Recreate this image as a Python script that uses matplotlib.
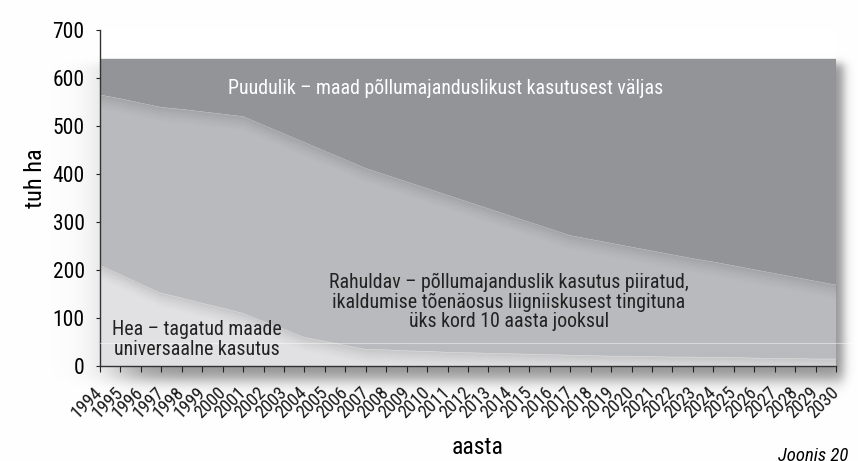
import numpy as np
import matplotlib
matplotlib.use("Agg")  # no display
import matplotlib.pyplot as plt

# ---------- data (tuh ha) ----------
years = list(range(1994, 2031))
hea = [210, 191, 171, 152, 142, 131, 121, 110, 93, 77, 60, 52, 43, 35, 34, 32,
       31, 29, 28, 27, 26, 25, 24, 23, 22, 21, 21, 20, 19, 19, 18, 18, 17, 16,
       16, 15, 15]
rahuldav = [355, 366, 377, 387, 393, 399, 404, 410, 409, 407, 406, 396, 387,
            377, 364, 352, 339, 327, 314, 301, 288, 275, 262, 249, 242, 235,
            227, 220, 213, 205, 199, 191, 184, 177, 169, 162, 154]
puudulik = [75, 83, 92, 101, 105, 110, 115, 120, 138, 156, 174, 192, 210, 228,
            242, 256, 270, 284, 298, 312, 326, 340, 354, 368, 376, 384, 392,
            400, 408, 416, 423, 431, 439, 447, 455, 463, 471]

layer_names = [
    "Hea \u2013 tagatud maade\nuniversaalne kasutus",
    "Rahuldav \u2013 p\u00f5llumajanduslik kasutus piiratud,\n"
    "ikaldumise t\u00f5en\u00e4osus liigniiskusest tingituna\n"
    "\u00fcks kord 10 aasta jooksul",
    "Puudulik \u2013 maad p\u00f5llumajanduslikust kasutusest v\u00e4ljas",
]
layer_colors = ["#e1e1e3", "#b9babd", "#939498"]

plt.rcParams["font.family"] = ["Roboto Condensed", "DejaVu Sans"]

W, H = 858, 461
fig = plt.figure(figsize=(W / 100, H / 100), dpi=100)

# ---------- soft drop shadow behind the plot ----------
px = np.arange(W)[None, :]
py = np.arange(H)[:, None]
sx = 0.5 * (1 - np.tanh((px - 843) / 6)) * 0.5 * (1 + np.tanh((px - 120) / 30))
sy = 0.5 * (1 - np.tanh((py - 380) / 9)) * 0.5 * (1 + np.tanh((py - 64) / 5))
shade = 1 - 0.42 * sx * sy
bg = fig.add_axes([0, 0, 1, 1], zorder=-2)
bg.imshow(np.dstack([shade, shade, shade]).clip(0, 1),
          aspect="auto", interpolation="bilinear")
bg.axis("off")

# ---------- main axes ----------
ax = fig.add_axes([100 / W, 95 / H, 736 / W, 336 / H])
grad = np.linspace(0.94, 1.0, 100)[:, None]
ax.imshow(grad, extent=[years[0], years[-1], 0, 700], aspect="auto",
          cmap="gray", vmin=0, vmax=1, origin="lower", zorder=0)

ax.stackplot(years, hea, rahuldav, puudulik, colors=layer_colors, lw=0,
             zorder=1)

# dark soft shading under each boundary
h = np.array(hea, dtype=float)
mid = h + np.array(rahuldav)
for edge, floor in [(mid, h), (h, np.zeros_like(h))]:
    n = 14
    for k in range(n):
        hi = np.maximum(edge - k * 2.3, floor)
        lo = np.maximum(edge - (k + 1) * 2.3, floor)
        ax.fill_between(years, lo, hi, color="black", lw=0,
                        alpha=0.11 * (1 - k / n) ** 1.6, zorder=2)

# faint light line across the lower part
ax.plot([years[0], years[-1] + 1.1], [48, 48], color="white", lw=0.8,
        alpha=0.45, clip_on=False, zorder=3)

ax.set_xlim(years[0], years[-1])
ax.set_ylim(0, 700)
ax.set_yticks(range(0, 701, 100))
ax.set_xticks(years)
ax.set_xticklabels([str(y) for y in years], rotation=45, ha="right",
                   va="center", rotation_mode="anchor", fontsize=13.2,
                   color="#1a1a1a")
ax.tick_params(axis="y", labelsize=15.5, length=3, pad=8, color="#222222")
ax.tick_params(axis="x", length=4, pad=13, color="#222222")
for s in ["top", "right"]:
    ax.spines[s].set_visible(False)
for s in ["left", "bottom"]:
    ax.spines[s].set_color("#333333")
    ax.spines[s].set_linewidth(1.0)

ax.set_ylabel("tuh ha", fontsize=17.5)
ax.yaxis.set_label_coords(-0.072, (366 - 178) / 336)
fig.text(478 / W, 1 - 447 / H, "aasta", fontsize=17, ha="center",
         va="center")
fig.text(848 / W, 1 - 447 / H, "Joonis 20", fontsize=13.5, style="italic",
         ha="right", va="top")

# layer labels
ax.text(2010.9, 579, layer_names[2], color="white", fontsize=14.3,
        ha="center", va="center", zorder=5)
ax.text(2014.0, 133, layer_names[1], color="#222222", fontsize=14.3,
        ha="center", va="center", linespacing=1.03, zorder=5)
ax.text(1998.75, 55, layer_names[0], color="#222222", fontsize=14.3,
        ha="center", va="center", linespacing=1.03, zorder=5)

fig.savefig("out.png", dpi=100)
